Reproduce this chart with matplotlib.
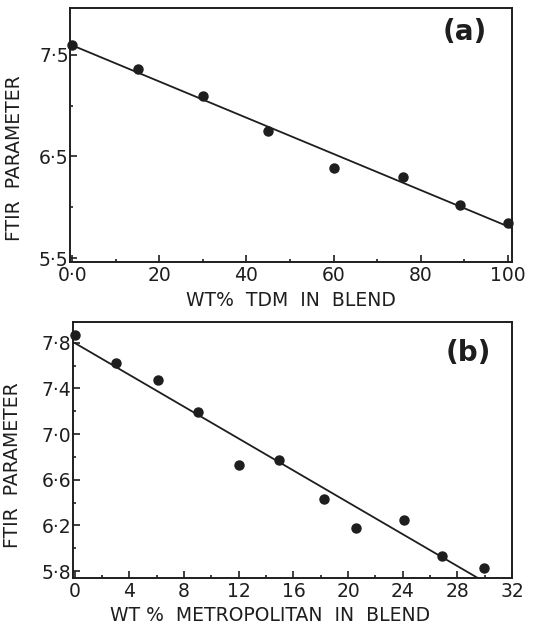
import numpy as np
import matplotlib
matplotlib.use("Agg")
import matplotlib.pyplot as plt
from matplotlib.ticker import MultipleLocator, FixedLocator

# (a) FTIR parameter vs wt% TDM in blend
tdm_wt = [0, 15, 30, 45, 60, 76, 89, 100]
tdm_ftir = [7.60, 7.36, 7.10, 6.75, 6.39, 6.30, 6.02, 5.84]

# (b) FTIR parameter vs wt% Metropolitan in blend
metro_wt = [0, 3.05, 6.1, 9.0, 12.05, 14.95, 18.25, 20.6, 24.1, 26.9, 29.95]
metro_ftir = [7.87, 7.62, 7.47, 7.19, 6.73, 6.77, 6.43, 6.18, 6.25, 5.93, 5.83]

a_xticks = [0, 20, 40, 60, 80, 100]
a_xlabels = ["0·0", "20", "40", "60", "80", "100"]
a_yticks = [5.5, 6.5, 7.5]
a_ylabels = ["5·5", "6·5", "7·5"]

b_xticks = [0, 4, 8, 12, 16, 20, 24, 28, 32]
b_yticks = [5.8, 6.2, 6.6, 7.0, 7.4, 7.8]
b_ylabels = ["5·8", "6·2", "6·6", "7·0", "7·4", "7·8"]

INK = "#1e1e1e"
plt.rcParams["font.family"] = ["DejaVu Sans"]


def style_axes(ax):
    for s in ax.spines.values():
        s.set_linewidth(1.4)
        s.set_color(INK)
    ax.tick_params(which="both", direction="in", colors=INK, labelsize=13.5,
                   width=1.2, pad=3)
    ax.tick_params(which="major", length=5)
    ax.tick_params(which="minor", length=2.5)
    ax.tick_params(axis="y", pad=1)


def draw_panel(ax, x, y, xmax):
    # least-squares line through the points
    slope, icpt = np.polyfit(x, y, 1)
    xs = np.array([0, xmax])
    ax.plot(xs, slope * xs + icpt, color=INK, lw=1.3, zorder=2)
    ax.plot(x, y, "o", color=INK, ms=6.5, zorder=3, clip_on=False)


fig = plt.figure(figsize=(5.43, 6.30), dpi=100)

ax1 = fig.add_axes([0.129, 0.584, 0.814, 0.403])
draw_panel(ax1, tdm_wt, tdm_ftir, 101)
ax1.set_xlim(-0.5, 101)
ax1.set_ylim(5.46, 7.96)
ax1.xaxis.set_major_locator(FixedLocator(a_xticks))
ax1.set_xticklabels(a_xlabels)
ax1.xaxis.set_minor_locator(MultipleLocator(10))
ax1.yaxis.set_major_locator(FixedLocator(a_yticks))
ax1.set_yticklabels(a_ylabels)
ax1.yaxis.set_minor_locator(MultipleLocator(0.5))
style_axes(ax1)
ax1.set_xlabel("WT%  TDM  IN  BLEND", fontsize=13.5, color=INK, labelpad=4)
ax1.set_ylabel("FTIR  PARAMETER", fontsize=13.5, color=INK)
ax1.yaxis.set_label_coords(-0.105, 0.41)
ax1.text(0.894, 0.905, "(a)", transform=ax1.transAxes,
         ha="center", va="center", fontsize=20, fontweight="bold", color=INK)

ax2 = fig.add_axes([0.134, 0.0825, 0.809, 0.406])
draw_panel(ax2, metro_wt, metro_ftir, 32)
ax2.set_xlim(-0.15, 32)
ax2.set_ylim(5.74, 7.98)
ax2.xaxis.set_major_locator(FixedLocator(b_xticks))
ax2.xaxis.set_minor_locator(MultipleLocator(2))
ax2.yaxis.set_major_locator(FixedLocator(b_yticks))
ax2.set_yticklabels(b_ylabels)
ax2.yaxis.set_minor_locator(MultipleLocator(0.2))
style_axes(ax2)
ax2.set_xlabel("WT %  METROPOLITAN  IN  BLEND", fontsize=13.5, color=INK)
ax2.xaxis.set_label_coords(0.45, -0.11)
ax2.set_ylabel("FTIR  PARAMETER", fontsize=13.5, color=INK)
ax2.yaxis.set_label_coords(-0.115, 0.44)
ax2.text(0.9, 0.88, "(b)", transform=ax2.transAxes,
         ha="center", va="center", fontsize=20, fontweight="bold", color=INK)

fig.savefig("out.png", dpi=100)
